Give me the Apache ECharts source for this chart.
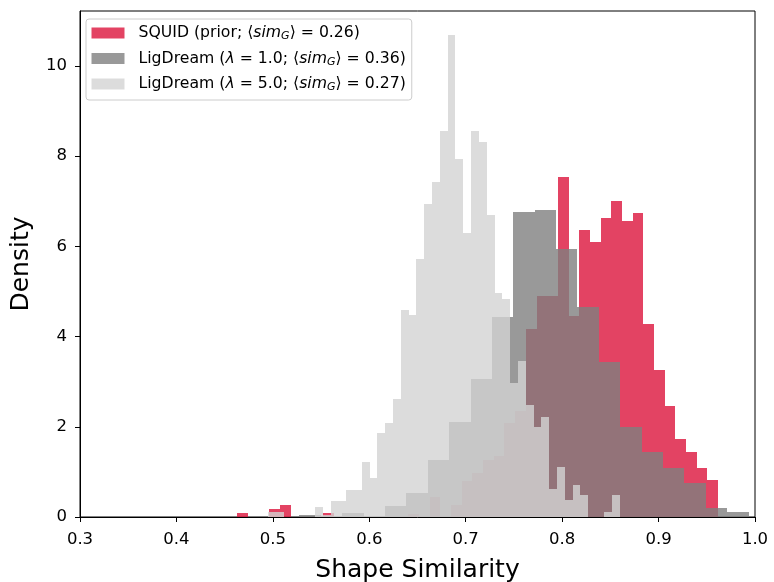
<!DOCTYPE html>
<html>
<head>
<meta charset="utf-8">
<script src="https://cdn.jsdelivr.net/npm/echarts@6/dist/echarts.min.js"></script>
<style>
  html, body { margin: 0; padding: 0; background: #fff; }
  #chart { width: 774px; height: 582px; }
</style>
</head>
<body>
<div id="chart"></div>
<script>
// histogram bins: first left edge, bin width, density per bin
const squidStart = 0.4632;
const squidWidth = 0.01108;
const squidDensity = [
  0.09, 0, 0, 0.17, 0.26, 0, 0, 0, 0.09, 0,
  0, 0, 0, 0, 0, 0, 0.06, 0, 0.45, 0,
  0.26, 0.80, 0.98, 1.26, 1.35, 2.08, 2.36, 4.17, 4.90, 4.90,
  7.55, 4.45, 6.37, 6.10, 6.64, 7.00, 6.56, 6.74, 4.28, 3.27,
  2.46, 1.73, 1.45, 1.09, 0.82
];

const lig1Start = 0.5054;
const lig1Width = 0.02218;
const lig1Density = [
  0, 0.04, 0.03, 0.08, 0, 0.25, 0.53, 1.26, 2.11, 3.07,
  4.44, 6.76, 6.81, 5.94, 4.66, 3.44, 1.99, 1.45, 1.08, 0.76,
  0.21, 0.12
];

const lig5Start = 0.4950;
const lig5Width = 0.0081;
const lig5Density = [
  0.10, 0.10, 0, 0, 0, 0, 0.23, 0.05, 0.35, 0.35,
  0.60, 0.60, 1.23, 0.86, 1.86, 2.08, 2.61, 4.59, 4.48, 5.71,
  6.95, 7.42, 8.56, 10.69, 7.93, 6.29, 8.56, 8.31, 6.70, 4.96,
  4.83, 2.98, 3.47, 2.48, 1.99, 2.22, 0.61, 1.10, 0.37, 0.72,
  0.49, 0, 0, 0.10, 0.49
];

const xTicks = [0.3, 0.4, 0.5, 0.6, 0.7, 0.8, 0.9, 1.0];
const yTicks = [0, 2, 4, 6, 8, 10];

const names = ["SQUID", "LigDream1", "LigDream5"];
const labels = {
  SQUID: "{n|SQUID (prior; ⟨}{i|sim}{s|G}{n|⟩ = 0.26)}",
  LigDream1: "{n|LigDream (}{i|λ}{n| = 1.0; ⟨}{i|sim}{s|G}{n|⟩ = 0.36)}",
  LigDream5: "{n|LigDream (}{i|λ}{n| = 5.0; ⟨}{i|sim}{s|G}{n|⟩ = 0.27)}",
};

const FONT = "DejaVu Sans";

function toBins(start, width, values) {
  return values.map((v, i) => [start + i * width, start + (i + 1) * width, v]);
}

function renderBar(params, api) {
  if (api.value(2) <= 0) return null;
  const p0 = api.coord([api.value(0), api.value(2)]);
  const p1 = api.coord([api.value(1), 0]);
  const x0 = Math.round(p0[0]);
  const x1 = Math.round(p1[0]);
  const y0 = Math.round(p0[1]);
  const y1 = Math.round(p1[1]);
  return {
    type: "rect",
    shape: { x: x0, y: y0, width: x1 - x0, height: y1 - y0 },
    style: { fill: api.visual("color") },
  };
}

function histSeries(name, color, bins) {
  return {
    name: name,
    type: "custom",
    renderItem: renderBar,
    itemStyle: { color: color },
    encode: { x: [0, 1], y: 2 },
    data: bins,
    animation: false,
  };
}

const chart = echarts.init(document.getElementById("chart"));

const option = {
  animation: false,
  grid: {
    left: 80,
    top: 11,
    width: 675,
    height: 506,
    outerBoundsMode: "none",
    show: true,
    borderColor: "#000",
    borderWidth: 1,
    backgroundColor: "transparent",
  },
  legend: {
    data: names,
    orient: "vertical",
    left: 86,
    top: 19,
    icon: "rect",
    itemWidth: 33,
    itemHeight: 11,
    itemGap: 8.5,
    padding: [6, 6, 7, 5.5],
    backgroundColor: "rgba(255,255,255,0.8)",
    borderColor: "#cccccc",
    borderWidth: 1,
    borderRadius: 3,
    formatter: (name) => labels[name],
    textStyle: {
      padding: [0, 0, 0, 9],
      rich: {
        n: { fontFamily: FONT, fontSize: 15.7, color: "#000", lineHeight: 18 },
        i: { fontFamily: FONT, fontSize: 15.7, fontStyle: "italic", color: "#000", lineHeight: 18 },
        s: { fontFamily: FONT, fontSize: 11, fontStyle: "italic", color: "#000", lineHeight: 18, verticalAlign: "bottom", padding: [5, 0, 0, 0] },
      },
    },
  },
  xAxis: {
    type: "value",
    min: 0.3,
    max: 1.0,
    name: "Shape Similarity",
    nameLocation: "middle",
    nameGap: 41,
    nameTextStyle: { fontFamily: FONT, fontSize: 25, color: "#000" },
    axisLine: { show: true, lineStyle: { color: "#000", width: 1 } },
    axisTick: { show: true, length: 5, lineStyle: { color: "#000" }, customValues: xTicks },
    axisLabel: {
      fontFamily: FONT,
      fontSize: 16.5,
      color: "#000",
      margin: 14,
      customValues: xTicks,
      formatter: (v) => v.toFixed(1),
    },
    splitLine: { show: false },
  },
  yAxis: {
    type: "value",
    min: 0,
    max: 11.22,
    name: "Density",
    nameLocation: "middle",
    nameGap: 46,
    nameTextStyle: { fontFamily: FONT, fontSize: 25, color: "#000" },
    axisLine: { show: true, lineStyle: { color: "#000", width: 1 } },
    axisTick: { show: true, length: 5, lineStyle: { color: "#000" }, customValues: yTicks },
    axisLabel: {
      fontFamily: FONT,
      fontSize: 16.5,
      color: "#000",
      margin: 13,
      customValues: yTicks,
      formatter: (v) => String(v),
    },
    splitLine: { show: false },
  },
  series: [
    histSeries("SQUID", "rgba(220,20,60,0.8)", toBins(squidStart, squidWidth, squidDensity)),
    histSeries("LigDream1", "rgba(128,128,128,0.8)", toBins(lig1Start, lig1Width, lig1Density)),
    histSeries("LigDream5", "rgba(211,211,211,0.8)", toBins(lig5Start, lig5Width, lig5Density)),
  ],
};

chart.setOption(option);
</script>
</body>
</html>
